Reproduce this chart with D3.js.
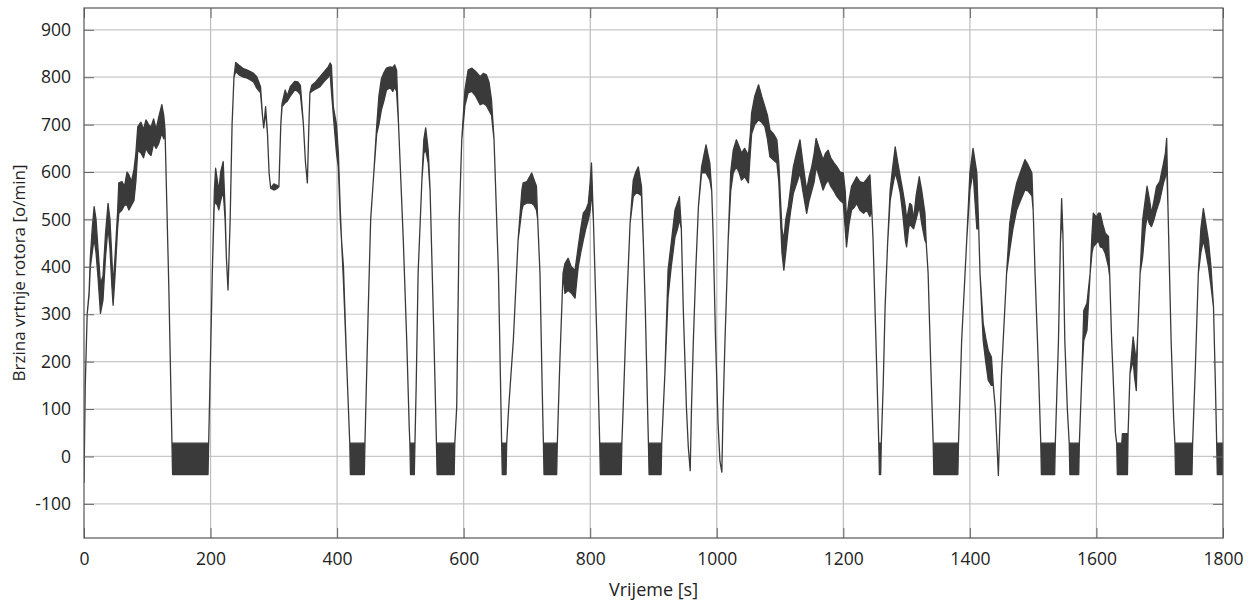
<!DOCTYPE html>
<html>
<head>
<meta charset="utf-8">
<script src="https://cdn.jsdelivr.net/npm/d3@7/dist/d3.min.js"></script>
<style>
  html, body { margin: 0; padding: 0; background: #fff; }
  text { font-family: "Open Sans", "DejaVu Sans", sans-serif; fill: #222; }
</style>
</head>
<body>
<svg id="chart" width="1255" height="603"></svg>
<script>
// Tick values
const xTicks = [0, 200, 400, 600, 800, 1000, 1200, 1400, 1600, 1800];
const yTicks = [-100, 0, 100, 200, 300, 400, 500, 600, 700, 800, 900];
const xTitle = "Vrijeme [s]";
const yTitle = "Brzina vrtnje rotora [o/min]";

// Rotor speed band: [time s, upper o/min, lower o/min]
const speedBand = [
  [0,-55,-55],[2,150,150],[5,300,300],[8,345,340],[10,420,400],[13,480,430],[16,527,460],[19,500,430],
  [22,440,380],[26,365,302],[30,380,330],[34,470,420],[38,534,484],[41,500,440],[44,420,360],[46,360,319],
  [49,420,380],[53,513,480],[55,577,513],[60,580,520],[64,570,530],[68,600,530],[71,594,520],[75,580,530],
  [79,605,540],[82,640,580],[85,696,646],[90,705,640],[94,690,630],[98,710,650],[102,700,640],[106,695,635],
  [110,712,660],[114,690,650],[118,715,660],[123,742,682],[126,720,670],[128,690,690],[134,360,360],
  [139,28,28],[140,28,-38],[196,28,-38],[197,28,28],
  [203,400,400],[206,560,540],[208,608,534],[211,580,530],[213,560,520],[216,600,540],[220,622,560],
  [223,520,500],[225,420,420],[227.6,351,351],[231,500,500],[234,700,700],[237,800,800],[239.7,831,812],
  [245,825,805],[252,818,800],[258,815,798],[263,812,794],[268,808,790],[273,801,777],[279,780,767],
  [282,720,720],[284,693,693],[287,738,728],[290,680,680],[292.5,598,598],[295,566,566],[300,575,562],
  [305,572,565],[308,569,569],[311,700,700],[313,745,738],[318,773,746],[321,760,749],[326,780,760],
  [333,791,773],[338,790,770],[342,783,763],[346.6,703,703],[350,620,620],[353,577,577],[355,680,680],
  [357,767,767],[360,783,770],[366,790,775],[373,801,780],[380,812,792],[386,822,800],[389,830,808],
  [391,825,770],[394,738,720],[399,700,640],[402,640,610],[405,520,500],[407,456,456],[410,400,370],
  [415,200,200],[420,28,28],[421,28,-38],[443,28,-38],[444,28,28],
  [449,300,300],[453,499,499],[458,598,598],[462.5,696,680],[466,760,700],[470,797,731],[474,810,750],
  [478,819,773],[484,822,778],[488,820,770],[491,826,780],[494,815,770],[497,703,703],[504.6,456,456],
  [510,245,245],[514,60,60],[515,28,28],[516,28,-38],[522,28,-38],[523,28,28],
  [525,150,150],[528,386,386],[534,583,583],[537,668,640],[540,693,646],[544,646,619],[547,560,560],
  [549,456,456],[553,250,250],[557,28,28],[558,28,-38],[585,28,-38],[586,28,28],
  [589,104,104],[593,500,500],[597,668,668],[602,773,740],[607,815,767],[613,819,770],[619,812,760],
  [626,801,742],[631,808,745],[636,805,740],[640,790,730],[644,752,720],[648,668,668],[655,386,386],
  [659,100,100],[660,28,28],[661,28,-38],[667,28,-38],[668,28,28],
  [671,100,100],[678.5,245,245],[686,456,456],[692,562,520],[694,577,530],[700,580,535],[707.5,598,534],
  [711,585,530],[715,570,520],[717,500,500],[720.6,386,386],[724,150,150],[726,28,28],[727,28,-38],
  [747,28,-38],[748,28,28],
  [752,200,200],[757,386,386],[760,407,344],[765,418,350],[770,400,345],[776,393,334],[781,442,400],
  [785,480,430],[789,513,456],[793,520,480],[797,534,499],[800,580,520],[802,619,562],[805,500,500],
  [807.5,386,386],[812,180,180],[815,28,28],[816,28,-38],[849,28,-38],[850,28,28],
  [852,100,100],[857.5,315,315],[863,492,492],[868,583,548],[872,600,555],[876,611,555],[881,570,550],
  [884,450,450],[887,315,315],[891,80,80],[892,28,28],[893,28,-38],[912,28,-38],[913,28,28],
  [918,175,175],[923,393,336],[928,450,400],[934,520,463],[938,535,480],[941,548,500],[944,480,480],
  [947,313,313],[952,104,104],[955,20,20],[958,-30,-30],[960,100,100],[963,245,245],[967,400,400],
  [971,527,527],[976,611,598],[983,657,598],[989,619,583],[992,560,560],[994.5,456,456],[998,250,250],
  [1002,70,70],[1005,-10,-10],[1008,-33,-33],[1010,100,100],[1013,245,245],[1018,456,456],[1022,600,560],
  [1026,646,598],[1031,668,611],[1035,655,600],[1039,640,583],[1044,650,590],[1050,636,577],[1053,680,640],
  [1055,724,680],[1060,760,700],[1066,784,710],[1071,760,705],[1076,738,696],[1080,720,670],[1084,689,632],
  [1090,680,625],[1095,668,619],[1098,620,580],[1100,562,520],[1103,480,430],[1106,456,393],[1109,500,430],
  [1113,527,480],[1117,570,520],[1121,611,555],[1126,640,575],[1131.5,668,598],[1136,620,560],[1142,562,513],
  [1146,590,540],[1150,611,560],[1154,640,580],[1157,671,611],[1162,650,590],[1168,626,562],[1172,640,575],
  [1176,646,583],[1180,630,570],[1185,620,560],[1190,611,548],[1195,600,540],[1200,598,534],[1203,560,480],
  [1205,499,442],[1209,540,490],[1213,570,520],[1217,580,525],[1221,590,534],[1226,580,520],[1232,577,513],
  [1237,585,520],[1242,594,506],[1245,520,520],[1247,456,456],[1253,175,175],[1256,28,28],[1257,28,-38],
  [1259,28,-38],[1260,28,28],
  [1263,150,150],[1266,315,315],[1270,450,450],[1274,562,540],[1278,610,570],[1282,653,598],[1286,620,580],
  [1290,590,555],[1294,560,510],[1298,527,456],[1300,500,442],[1303,520,480],[1305,534,491],[1308,530,485],
  [1311,500,480],[1315,550,500],[1320,590,527],[1324,560,490],[1329,513,456],[1331,450,450],[1334,386,386],
  [1338,200,200],[1342,28,28],[1343,28,-38],[1381,28,-38],[1382,28,28],
  [1387,245,245],[1395,456,456],[1400,598,562],[1405,650,600],[1411,598,480],[1414,480,480],[1416,386,386],
  [1421,281,245],[1425,250,200],[1429,224,161],[1434,210,150],[1437,150,150],[1440,104,104],[1443,20,20],
  [1445,-40,-40],[1447,50,50],[1450,175,175],[1458,386,386],[1463,492,435],[1468,540,480],[1474,577,520],
  [1480,600,540],[1487,626,562],[1492,615,560],[1498,598,550],[1500,520,520],[1503,386,386],[1508,200,200],
  [1512,28,28],[1513,28,-38],[1534,28,-38],[1535,28,28],
  [1540,245,245],[1543,450,450],[1545,544,501],[1547,470,470],[1550,245,245],[1554,100,100],[1557,28,28],
  [1558,28,-38],[1572,28,-38],[1573,28,28],
  [1577,175,175],[1580,308,245],[1585,323,266],[1590,386,386],[1593,470,430],[1595,513,442],[1600,505,450],
  [1603,513,455],[1606,513,442],[1610,490,440],[1614,471,428],[1619,464,400],[1621,380,380],[1624,245,245],
  [1630,50,50],[1632,28,28],[1633,28,-38],[1640,28,-38],[1641,48,-38],[1649,48,-38],[1650,48,48],
  [1653,175,175],[1658,252,203],[1660,230,170],[1663,200,139],[1665,250,250],[1669,386,386],[1673,499,421],
  [1677,540,480],[1680,570,506],[1684,540,490],[1687,513,485],[1691,540,500],[1695,570,520],[1700,580,540],
  [1706,619,577],[1709,640,590],[1711,671,611],[1713,527,527],[1718,245,245],[1722,80,80],[1724,28,28],
  [1725,28,-38],[1751,28,-38],[1752,28,28],
  [1756,175,175],[1761,386,386],[1765,480,430],[1769,523,456],[1773,490,430],[1777,456,400],[1781,400,360],
  [1785,315,315],[1788,150,150],[1790,28,28],[1791,28,-38],[1800,28,-38]
];

const svg = d3.select("#chart");
const pLeft = 84, pRight = 1223, pTop = 8, pBottom = 538;

const x = d3.scaleLinear().domain([0, 1800]).range([pLeft, pRight]);
const y = d3.scaleLinear().domain([-172, 946]).range([pBottom, pTop]);

// Grid
svg.append("g").selectAll("line").data(yTicks).join("line")
  .attr("x1", pLeft).attr("x2", pRight)
  .attr("y1", d => y(d)).attr("y2", d => y(d))
  .attr("stroke", "#c8c8c8").attr("stroke-width", 1.2);
svg.append("g").selectAll("line").data(xTicks.filter(d => d > 0 && d < 1800)).join("line")
  .attr("y1", pTop).attr("y2", pBottom)
  .attr("x1", d => x(d)).attr("x2", d => x(d))
  .attr("stroke", "#bdbdbd").attr("stroke-width", 1.2);

// Data band
svg.append("clipPath").attr("id", "clip").append("rect")
  .attr("x", pLeft).attr("y", pTop).attr("width", pRight - pLeft).attr("height", pBottom - pTop);
const area = d3.area()
  .x(d => x(d[0])).y0(d => y(d[2])).y1(d => y(d[1]));
svg.append("path").datum(speedBand)
  .attr("clip-path", "url(#clip)")
  .attr("d", area)
  .attr("fill", "#3a3a3a").attr("stroke", "#3a3a3a").attr("stroke-width", 1.3)
  .attr("stroke-linejoin", "round");

// Axes with inward ticks
const fmt = d => String(d);
function styleAxis(g) {
  g.select(".domain").remove();
  g.selectAll(".tick line").attr("stroke", "#666");
  g.selectAll(".tick text").style("font-family", "'Open Sans', sans-serif").style("font-size", "17.5px").attr("fill", "#222");
}
svg.append("g").attr("transform", `translate(0,${pBottom})`)
  .call(d3.axisBottom(x).tickValues(xTicks).tickSize(-10).tickPadding(15).tickFormat(fmt))
  .call(styleAxis);
svg.append("g").attr("transform", `translate(${pLeft},0)`)
  .call(d3.axisLeft(y).tickValues(yTicks).tickSize(-10).tickPadding(13).tickFormat(fmt))
  .call(styleAxis);
svg.append("g").attr("transform", `translate(0,${pTop})`)
  .call(d3.axisTop(x).tickValues(xTicks).tickSize(-10).tickFormat(""))
  .call(styleAxis);
svg.append("g").attr("transform", `translate(${pRight},0)`)
  .call(d3.axisRight(y).tickValues(yTicks).tickSize(-10).tickFormat(""))
  .call(styleAxis);

// Frame
svg.append("rect").attr("x", pLeft).attr("y", pTop)
  .attr("width", pRight - pLeft).attr("height", pBottom - pTop)
  .attr("fill", "none").attr("stroke", "#555").attr("stroke-width", 1.2);

// Titles
svg.append("text").attr("x", (pLeft + pRight) / 2).attr("y", 596)
  .attr("text-anchor", "middle").style("font-size", "18px").text(xTitle);
svg.append("text").attr("transform", `translate(25,${(pTop + pBottom) / 2}) rotate(-90)`)
  .attr("text-anchor", "middle").style("font-size", "17px").text(yTitle);
</script>
</body>
</html>
